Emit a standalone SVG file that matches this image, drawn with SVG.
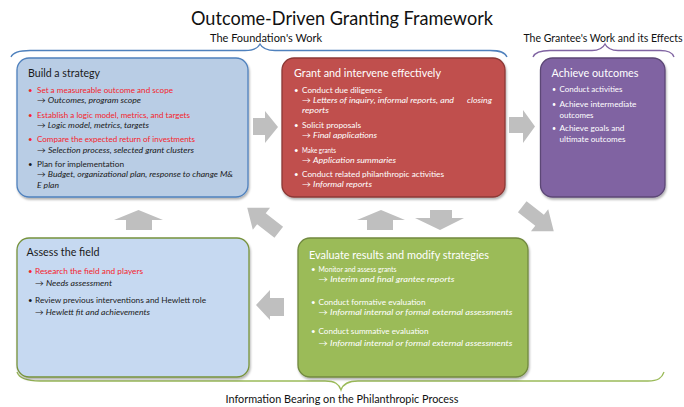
<svg xmlns="http://www.w3.org/2000/svg" width="684" height="407" viewBox="0 0 684 407">
<defs>
<filter id="sh" x="-5%" y="-5%" width="110%" height="115%">
<feDropShadow dx="1" dy="2" stdDeviation="1.2" flood-color="#000" flood-opacity="0.3"/>
</filter>
</defs>
<style>
text{font-family:Lato,"Open Sans","DejaVu Sans",sans-serif;}
.title{font-size:19px;fill:#111;}
.sub{font-size:10.5px;fill:#111;}
.hd{font-size:10.5px;}
.b{font-size:7.8px;}
.s{font-size:7px;}
.dk{fill:#1a1a1a;}
.wh{fill:#fff;}
.rd{fill:#f5232b;}
.it{font-style:italic;}
.arr{fill:#bfbfbf;}
.brace{fill:none;stroke-width:1.3;}
</style>
<rect width="684" height="407" fill="#fff"/>
<text class="title" x="342" y="25" text-anchor="middle" textLength="302" lengthAdjust="spacingAndGlyphs">Outcome-Driven Granting Framework</text>
<text class="sub" x="266" y="42" text-anchor="middle" textLength="112" lengthAdjust="spacingAndGlyphs">The Foundation's Work</text>
<text class="sub" x="603" y="42" text-anchor="middle" textLength="159" lengthAdjust="spacingAndGlyphs">The Grantee's Work and its Effects</text>
<g id="braces">
<path class="brace" stroke="#4f81bd" d="M11,57 C13,52 20,50.5 30,50.5 L245,50.5 C253,50.5 258,48 260,44 C262,48 267,50.5 275,50.5 L490,50.5 C500,50.5 505,52 507,57"/>
<path class="brace" stroke="#8064a2" d="M533,57 C535,52 541,50.5 550,50.5 L592,50.5 C599,50.5 603,48 605,44 C607,48 611,50.5 618,50.5 L660,50.5 C668,50.5 672,52 674,57"/>
<path class="brace" stroke="#9bbb59" d="M17,372 C19,378 26,381 40,381 L325,381 C335,381 339,384 341,390 C343,384 348,381 358,381 L648,381 C658,381 662,378 664,372"/>
</g>
<text class="sub" x="342" y="403" text-anchor="middle" textLength="233" lengthAdjust="spacingAndGlyphs">Information Bearing on the Philanthropic Process</text>

<g id="build">
<rect x="17" y="58" width="231" height="139" rx="12" fill="#b9cde5" stroke="#4f81bd" stroke-width="1.3" filter="url(#sh)"/>
<text class="hd dk" x="28" y="77" textLength="72" lengthAdjust="spacingAndGlyphs">Build a strategy</text>
<g class="b">
<text class="rd" x="28" y="92.5">•</text>
<text class="rd" x="37" y="92.5" textLength="136" lengthAdjust="spacingAndGlyphs">Set a measureable outcome and scope</text>
<text class="dk" x="37" y="103" textLength="104" lengthAdjust="spacingAndGlyphs">→ <tspan class="it">Outcomes, program scope</tspan></text>
<text class="rd" x="28" y="118">•</text>
<text class="rd" x="37" y="118" textLength="153" lengthAdjust="spacingAndGlyphs">Establish a logic model, metrics, and targets</text>
<text class="dk" x="37" y="128" textLength="112" lengthAdjust="spacingAndGlyphs">→ <tspan class="it">Logic model, metrics, targets</tspan></text>
<text class="rd" x="28" y="142">•</text>
<text class="rd" x="37" y="142" textLength="158" lengthAdjust="spacingAndGlyphs">Compare the expected return of investments</text>
<text class="dk" x="37" y="153" textLength="157" lengthAdjust="spacingAndGlyphs">→ <tspan class="it">Selection process, selected grant clusters</tspan></text>
<text class="dk" x="28" y="167">•</text>
<text class="dk" x="37" y="167" textLength="87" lengthAdjust="spacingAndGlyphs">Plan for implementation</text>
<text class="dk" x="37" y="177" textLength="196" lengthAdjust="spacingAndGlyphs">→ <tspan class="it">Budget, organizational plan, response to change M&amp;</tspan></text>
<text class="dk it" x="37" y="188" textLength="22" lengthAdjust="spacingAndGlyphs">E plan</text>
</g>
</g>

<g id="grant">
<rect x="282" y="58" width="223" height="139" rx="12" fill="#c0504d" stroke="#8c3836" stroke-width="1.3" filter="url(#sh)"/>
<text class="hd wh" x="294" y="77" textLength="147" lengthAdjust="spacingAndGlyphs">Grant and intervene effectively</text>
<g class="b wh">
<text x="294" y="93">•</text>
<text x="302" y="93" textLength="80" lengthAdjust="spacingAndGlyphs">Conduct due diligence</text>
<text x="302" y="103" textLength="152" lengthAdjust="spacingAndGlyphs">→ <tspan class="it">Letters of inquiry, informal reports, and</tspan></text>
<text class="it" x="467" y="103" textLength="25" lengthAdjust="spacingAndGlyphs">closing</text>
<text class="it" x="302" y="113" textLength="27" lengthAdjust="spacingAndGlyphs">reports</text>
<text x="294" y="128">•</text>
<text x="302" y="128" textLength="59" lengthAdjust="spacingAndGlyphs">Solicit proposals</text>
<text x="302" y="138" textLength="75" lengthAdjust="spacingAndGlyphs">→ <tspan class="it">Final applications</tspan></text>
<text x="294" y="153">•</text>
<text x="302" y="153" textLength="34" lengthAdjust="spacingAndGlyphs">Make grants</text>
<text x="302" y="163" textLength="94" lengthAdjust="spacingAndGlyphs">→ <tspan class="it">Application summaries</tspan></text>
<text x="294" y="177">•</text>
<text x="302" y="177" textLength="142" lengthAdjust="spacingAndGlyphs">Conduct related philanthropic activities</text>
<text x="302" y="187" textLength="70" lengthAdjust="spacingAndGlyphs">→ <tspan class="it">Informal reports</tspan></text>
</g>
</g>

<g id="achieve">
<rect x="540.5" y="58" width="124.5" height="139" rx="12" fill="#8064a2" stroke="#5c4776" stroke-width="1.3" filter="url(#sh)"/>
<text class="hd wh" x="551.5" y="77" textLength="87" lengthAdjust="spacingAndGlyphs">Achieve outcomes</text>
<g class="s wh">
<text x="552" y="92">•</text>
<text x="559.5" y="92" textLength="63" lengthAdjust="spacingAndGlyphs">Conduct activities</text>
<text x="552" y="107">•</text>
<text x="559.5" y="107" textLength="77" lengthAdjust="spacingAndGlyphs">Achieve intermediate</text>
<text x="559.5" y="118" textLength="34" lengthAdjust="spacingAndGlyphs">outcomes</text>
<text x="552" y="130.5">•</text>
<text x="559.5" y="130.5" textLength="65" lengthAdjust="spacingAndGlyphs">Achieve goals and</text>
<text x="559.5" y="141.5" textLength="66" lengthAdjust="spacingAndGlyphs">ultimate outcomes</text>
</g>
</g>

<g id="assess">
<rect x="17" y="238" width="232" height="139" rx="12" fill="#c6d9f1" stroke="#77933c" stroke-width="1.3" filter="url(#sh)"/>
<text class="hd dk" x="26.5" y="256" textLength="73" lengthAdjust="spacingAndGlyphs">Assess the field</text>
<g class="b">
<text class="rd" x="28" y="273.5">•</text>
<text class="rd" x="35" y="273.5" textLength="108" lengthAdjust="spacingAndGlyphs">Research the field and players</text>
<text class="dk" x="35" y="286" textLength="77" lengthAdjust="spacingAndGlyphs">→ <tspan class="it">Needs assessment</tspan></text>
<text class="dk" x="28" y="303">•</text>
<text class="dk" x="35" y="303" textLength="171" lengthAdjust="spacingAndGlyphs">Review previous interventions and Hewlett role</text>
<text class="dk" x="35" y="315" textLength="115" lengthAdjust="spacingAndGlyphs">→ <tspan class="it">Hewlett fit and achievements</tspan></text>
</g>
</g>

<g id="evaluate">
<rect x="298" y="238" width="230" height="139" rx="12" fill="#9bbb59" stroke="#71893f" stroke-width="1.3" filter="url(#sh)"/>
<text class="hd wh" x="309" y="259" textLength="180" lengthAdjust="spacingAndGlyphs">Evaluate results and modify strategies</text>
<g class="b wh">
<text x="311" y="272">•</text>
<text x="318.5" y="272" textLength="78" lengthAdjust="spacingAndGlyphs">Monitor and assess grants</text>
<text x="318.5" y="282" textLength="136" lengthAdjust="spacingAndGlyphs">→ <tspan class="it">Interim and final grantee reports</tspan></text>
<text x="311" y="304.5">•</text>
<text x="318.5" y="304.5" textLength="107" lengthAdjust="spacingAndGlyphs">Conduct formative evaluation</text>
<text x="318.5" y="315" textLength="194" lengthAdjust="spacingAndGlyphs">→ <tspan class="it">Informal internal or formal external assessments</tspan></text>
<text x="311" y="333.5">•</text>
<text x="318.5" y="333.5" textLength="110" lengthAdjust="spacingAndGlyphs">Conduct summative evaluation</text>
<text x="318.5" y="345.5" textLength="194" lengthAdjust="spacingAndGlyphs">→ <tspan class="it">Informal internal or formal external assessments</tspan></text>
</g>
</g>

<g id="connectors">
<polygon class="arr" points="253,118 265,118 265,111 278,127 265,143 265,135 253,135"/>
<polygon class="arr" points="509,117 523,117 523,110 535,126.5 523,143 523,133 509,133"/>
<polygon class="arr" points="284,298 270,298 270,290 256,305 270,320 270,316 284,316"/>
<polygon class="arr" points="126,230 126,220 114,220 138.5,210 163,220 152,220 152,230"/>
<polygon class="arr" points="367,230 367,220 357,220 381,210 405,220 393,220 393,230"/>
<polygon class="arr" points="430,210 452,210 452,218 464,218 440,230 415,218 430,218"/>
<g transform="translate(263,220) rotate(-142)">
<polygon class="arr" points="-20,-7 2,-7 2,-14 20,0 2,14 2,7 -20,7"/>
</g>
<g transform="translate(538,219) rotate(38)">
<polygon class="arr" points="-20,-7 2,-7 2,-14 20,0 2,14 2,7 -20,7"/>
</g>
</g>
</svg>
